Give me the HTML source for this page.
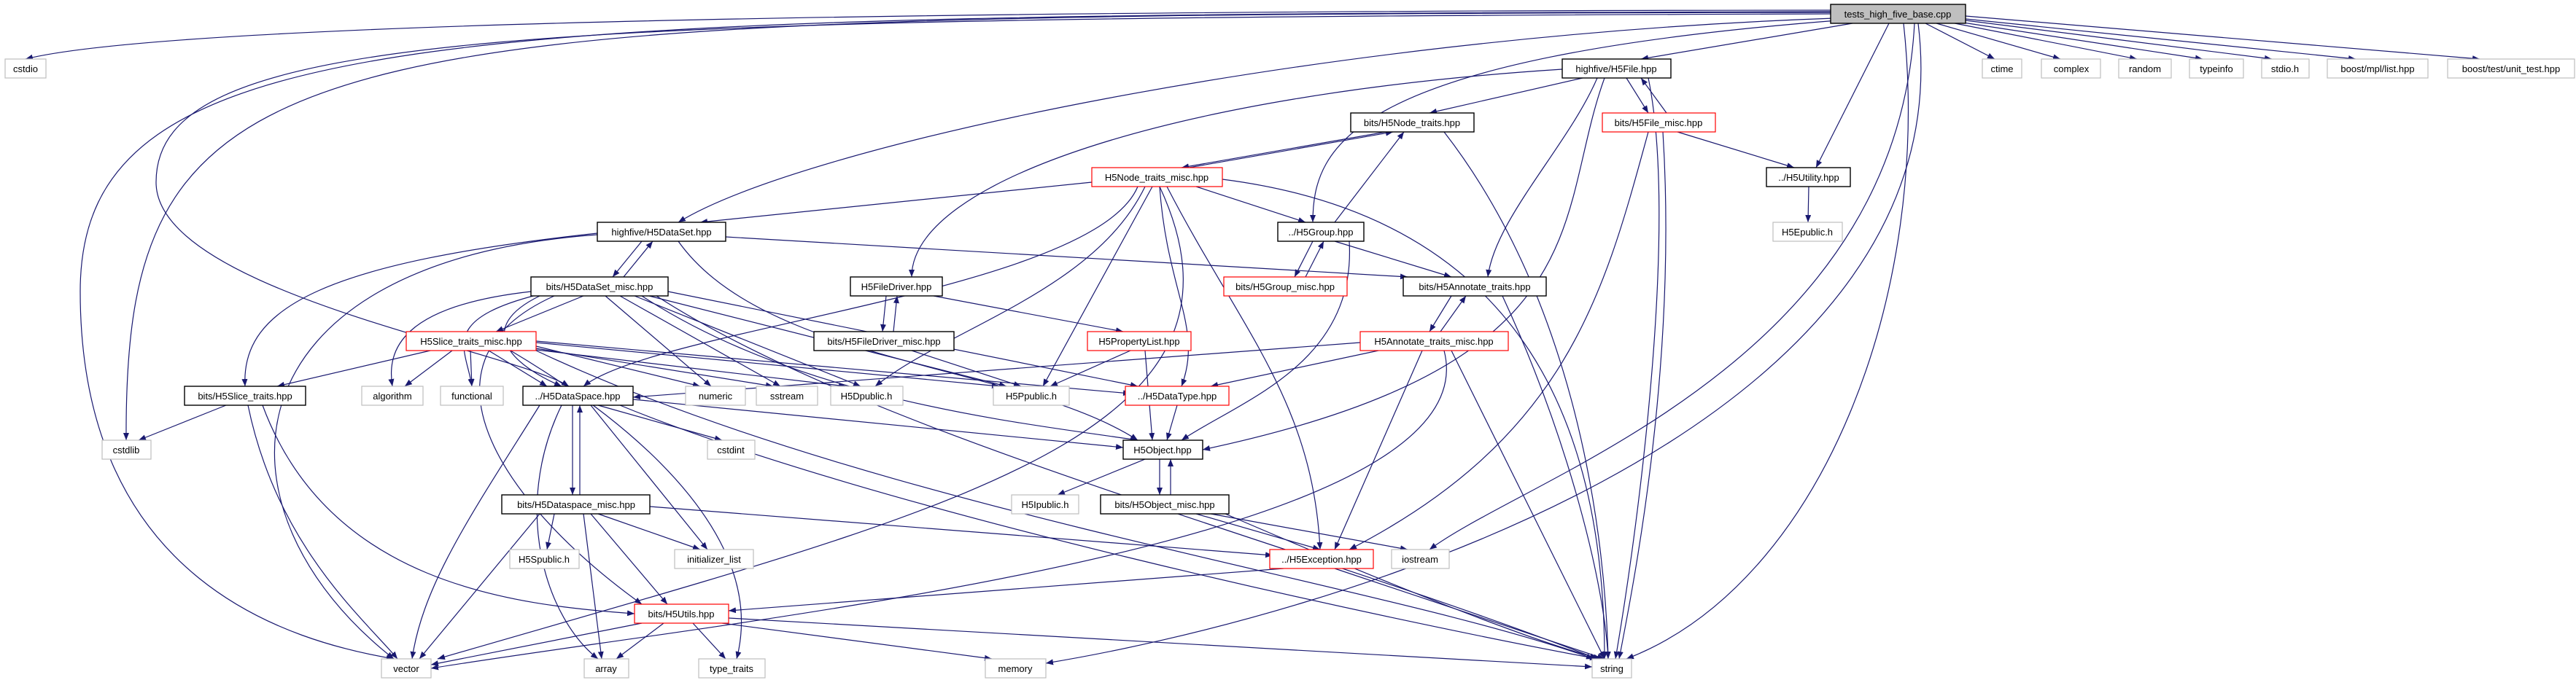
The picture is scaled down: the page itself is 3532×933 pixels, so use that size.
<!DOCTYPE html>
<html><head><meta charset="utf-8"><style>
html,body{margin:0;padding:0;background:#fff}
svg{display:block}
text{font-family:"Liberation Sans",sans-serif;font-size:13px;text-anchor:middle;fill:#000}
.e{fill:none;stroke:#191970;stroke-width:1.2;marker-end:url(#a)}
.b{fill:#fff;stroke:#000;stroke-width:1.4}
.g{fill:#fff;stroke:#bfbfbf;stroke-width:1.2}
.r{fill:#fff;stroke:#ff0000;stroke-width:1.2}
</style></head><body>
<svg width="3532" height="933" viewBox="0 0 3532 933" xmlns="http://www.w3.org/2000/svg">
<defs><marker id="a" markerUnits="userSpaceOnUse" markerWidth="11" markerHeight="9" refX="10" refY="4" orient="auto"><path d="M0,0 L10,4 L0,8 z" fill="#191970"/></marker></defs>
<g>
<!-- tests edges -->
<path class="e" d="M2510 14 Q300 15 35 81"/>
<path class="e" d="M2510 17 C400 20 170 30 173 604"/>
<path class="e" d="M2510 16 C600 20 110 30 110 400 C110 800 400 880 540 904"/>
<path class="e" d="M2510 19 C700 25 214 40 214 250 C214 400 700 480 780 530"/>
<path class="e" d="M2515 25 C1800 50 1100 200 930 305"/>
<path class="e" d="M2520 28 C1850 80 1800 200 1800 305"/>
<path class="e" d="M2540 32 L2250 81"/>
<path class="e" d="M2590 32 L2490 230"/>
<path class="e" d="M2610 32 C2650 400 2500 800 2230 904"/>
<path class="e" d="M2625 32 C2600 500 2100 650 1960 754"/>
<path class="e" d="M2630 32 C2700 600 1800 850 1434 910"/>
<path class="e" d="M2640 32 L2735 81"/>
<path class="e" d="M2655 32 L2825 81"/>
<path class="e" d="M2670 30 L2930 81"/>
<path class="e" d="M2685 30 L3020 81"/>
<path class="e" d="M2695 28 L3115 81"/>
<path class="e" d="M2695 26 L3230 81"/>
<path class="e" d="M2695 22 L3400 81"/>
<!-- H5File -->
<path class="e" d="M2170 107 L1960 155"/>
<path class="e" d="M2230 107 L2260 155"/>
<path class="e" d="M2285 155 L2250 107"/>
<path class="e" d="M2190 107 C2150 200 2050 300 2040 380"/>
<path class="e" d="M2142 95 C1600 130 1250 250 1250 380"/>
<path class="e" d="M2200 107 C2130 300 2200 500 1649 617"/>
<path class="e" d="M2260 107 C2300 300 2250 700 2215 904"/>
<!-- File_misc -->
<path class="e" d="M2300 181 L2460 230"/>
<path class="e" d="M2260 181 C2200 400 2150 600 1850 754"/>
<path class="e" d="M2280 181 C2300 500 2240 800 2220 904"/>
<!-- Node_traits -->
<path class="e" d="M1900 181 L1620 230"/>
<path class="e" d="M1630 230 L1910 181"/>
<path class="e" d="M1980 181 C2150 400 2200 700 2205 904"/>
<!-- Node_traits_misc -->
<path class="e" d="M1497 250 L960 305"/>
<path class="e" d="M1640 256 L1790 305"/>
<path class="e" d="M1830 305 L1925 181"/>
<path class="e" d="M1676 246 C2100 300 2200 600 2200 904"/>
<path class="e" d="M1560 256 C1500 400 900 450 800 530"/>
<path class="e" d="M1570 256 C1500 400 1300 450 1200 530"/>
<path class="e" d="M1580 256 L1430 530"/>
<path class="e" d="M1590 256 C1600 400 1650 450 1620 530"/>
<path class="e" d="M1600 256 C1700 450 1800 550 1810 754"/>
<path class="e" d="M1590 256 C1750 600 1300 700 600 904"/>
<path class="e" d="M2480 256 L2479 305"/>
<!-- H5DataSet -->
<path class="e" d="M880 331 L840 380"/>
<path class="e" d="M855 380 L895 331"/>
<path class="e" d="M995 325 L1930 380"/>
<path class="e" d="M819 320 C450 360 330 420 336 530"/>
<path class="e" d="M819 322 C300 360 280 700 540 904"/>
<path class="e" d="M930 331 C1050 500 1400 500 1560 604"/>
<!-- H5Group -->
<path class="e" d="M1800 331 L1775 380"/>
<path class="e" d="M1790 380 L1815 331"/>
<path class="e" d="M1830 331 L1990 380"/>
<path class="e" d="M1850 331 C1860 500 1700 550 1620 604"/>
<!-- DataSet_misc -->
<path class="e" d="M800 406 L680 455"/>
<path class="e" d="M728 400 C550 420 530 480 538 530"/>
<path class="e" d="M735 405 C600 440 640 480 647 530"/>
<path class="e" d="M740 406 C650 450 700 500 770 530"/>
<path class="e" d="M830 406 L975 530"/>
<path class="e" d="M850 406 L1070 530"/>
<path class="e" d="M870 406 L1180 530"/>
<path class="e" d="M890 406 L1380 530"/>
<path class="e" d="M916 400 L1560 530"/>
<path class="e" d="M760 406 C550 500 700 700 880 829"/>
<path class="e" d="M900 406 C1200 600 1800 750 2190 904"/>
<path class="e" d="M880 406 C1100 550 1400 580 1560 604"/>
<!-- FileDriver -->
<path class="e" d="M1215 406 L1210 455"/>
<path class="e" d="M1225 455 L1230 406"/>
<path class="e" d="M1280 406 L1540 455"/>
<path class="e" d="M1250 481 L1400 530"/>
<!-- Annotate -->
<path class="e" d="M1990 406 L1960 455"/>
<path class="e" d="M1975 455 L2010 406"/>
<path class="e" d="M2060 406 C2150 600 2200 800 2205 904"/>
<path class="e" d="M1865 470 L868 545"/>
<path class="e" d="M1890 481 L1660 530"/>
<path class="e" d="M1950 481 L1830 754"/>
<path class="e" d="M1990 481 L2200 904"/>
<path class="e" d="M1980 481 C2050 750 1000 850 591 917"/>
<!-- PropertyList -->
<path class="e" d="M1550 481 L1440 530"/>
<path class="e" d="M1570 481 L1580 604"/>
<!-- Slice_traits_misc -->
<path class="e" d="M590 481 L380 530"/>
<path class="e" d="M620 481 L555 530"/>
<path class="e" d="M645 481 L647 530"/>
<path class="e" d="M670 481 L750 530"/>
<path class="e" d="M735 475 L960 530"/>
<path class="e" d="M735 478 L1060 530"/>
<path class="e" d="M735 480 L1160 530"/>
<path class="e" d="M735 470 L1370 530"/>
<path class="e" d="M735 468 L1550 540"/>
<path class="e" d="M700 481 C900 600 1050 750 1010 904"/>
<path class="e" d="M735 481 C1200 700 1900 800 2185 904"/>
<!-- Slice_traits -->
<path class="e" d="M310 556 L190 604"/>
<path class="e" d="M340 556 C380 750 500 850 545 904"/>
<path class="e" d="M360 556 C450 800 700 830 870 842"/>
<!-- DataSpace -->
<path class="e" d="M785 556 L785 679"/>
<path class="e" d="M795 679 L795 556"/>
<path class="e" d="M820 556 L990 604"/>
<path class="e" d="M868 548 L1540 614"/>
<path class="e" d="M740 556 C650 700 580 800 565 904"/>
<path class="e" d="M770 556 C700 700 750 850 820 904"/>
<path class="e" d="M810 556 L970 754"/>
<path class="e" d="M850 556 C1200 700 1900 850 2190 904"/>
<path class="e" d="M1614 556 L1600 604"/>
<!-- H5Object -->
<path class="e" d="M1570 630 L1450 679"/>
<path class="e" d="M1590 630 L1590 679"/>
<path class="e" d="M1605 679 L1605 630"/>
<path class="e" d="M1640 705 L1810 754"/>
<path class="e" d="M1660 705 L1930 754"/>
<path class="e" d="M1680 705 C1900 800 2100 880 2195 904"/>
<!-- Dataspace_misc -->
<path class="e" d="M760 705 L750 754"/>
<path class="e" d="M820 705 L960 754"/>
<path class="e" d="M891 695 L1745 762"/>
<path class="e" d="M810 705 L915 829"/>
<path class="e" d="M800 705 L825 904"/>
<path class="e" d="M740 705 L575 904"/>
<!-- Exception -->
<path class="e" d="M1760 780 L999 838"/>
<path class="e" d="M1830 780 L2200 904"/>
<!-- H5Utils -->
<path class="e" d="M880 855 L591 912"/>
<path class="e" d="M910 855 L845 904"/>
<path class="e" d="M950 855 L995 904"/>
<path class="e" d="M990 855 L1360 904"/>
<path class="e" d="M999 848 L2183 915"/>
</g>
<g>
<rect x="2510" y="6" width="185" height="26" fill="#bfbfbf" stroke="#000" stroke-width="1.4"/><text x="2602" y="24">tests_high_five_base.cpp</text>
<rect class="g" x="7" y="81" width="56" height="26"/><text x="35" y="99">cstdio</text>
<rect class="b" x="2142" y="81" width="149" height="26"/><text x="2216" y="99">highfive/H5File.hpp</text>
<rect class="g" x="2718" y="81" width="54" height="26"/><text x="2745" y="99">ctime</text>
<rect class="g" x="2799" y="81" width="81" height="26"/><text x="2840" y="99">complex</text>
<rect class="g" x="2905" y="81" width="72" height="26"/><text x="2941" y="99">random</text>
<rect class="g" x="3002" y="81" width="74" height="26"/><text x="3039" y="99">typeinfo</text>
<rect class="g" x="3101" y="81" width="65" height="26"/><text x="3133" y="99">stdio.h</text>
<rect class="g" x="3191" y="81" width="138" height="26"/><text x="3260" y="99">boost/mpl/list.hpp</text>
<rect class="g" x="3356" y="81" width="174" height="26"/><text x="3443" y="99">boost/test/unit_test.hpp</text>
<rect class="b" x="1852" y="155" width="169" height="26"/><text x="1936" y="173">bits/H5Node_traits.hpp</text>
<rect class="r" x="2197" y="155" width="155" height="26"/><text x="2274" y="173">bits/H5File_misc.hpp</text>
<rect class="r" x="1497" y="230" width="179" height="26"/><text x="1586" y="248">H5Node_traits_misc.hpp</text>
<rect class="b" x="2422" y="230" width="115" height="26"/><text x="2480" y="248">../H5Utility.hpp</text>
<rect class="b" x="819" y="305" width="176" height="26"/><text x="907" y="323">highfive/H5DataSet.hpp</text>
<rect class="b" x="1752" y="305" width="118" height="26"/><text x="1811" y="323">../H5Group.hpp</text>
<rect class="g" x="2431" y="305" width="95" height="26"/><text x="2478" y="323">H5Epublic.h</text>
<rect class="b" x="728" y="380" width="188" height="26"/><text x="822" y="398">bits/H5DataSet_misc.hpp</text>
<rect class="b" x="1166" y="380" width="126" height="26"/><text x="1229" y="398">H5FileDriver.hpp</text>
<rect class="r" x="1678" y="380" width="169" height="26"/><text x="1762" y="398">bits/H5Group_misc.hpp</text>
<rect class="b" x="1924" y="380" width="196" height="26"/><text x="2022" y="398">bits/H5Annotate_traits.hpp</text>
<rect class="r" x="557" y="455" width="178" height="26"/><text x="646" y="473">H5Slice_traits_misc.hpp</text>
<rect class="b" x="1116" y="455" width="192" height="26"/><text x="1212" y="473">bits/H5FileDriver_misc.hpp</text>
<rect class="r" x="1491" y="455" width="142" height="26"/><text x="1562" y="473">H5PropertyList.hpp</text>
<rect class="r" x="1865" y="455" width="203" height="26"/><text x="1966" y="473">H5Annotate_traits_misc.hpp</text>
<rect class="b" x="253" y="530" width="166" height="26"/><text x="336" y="548">bits/H5Slice_traits.hpp</text>
<rect class="g" x="496" y="530" width="84" height="26"/><text x="538" y="548">algorithm</text>
<rect class="g" x="604" y="530" width="86" height="26"/><text x="647" y="548">functional</text>
<rect class="b" x="717" y="530" width="151" height="26"/><text x="792" y="548">../H5DataSpace.hpp</text>
<rect class="g" x="940" y="530" width="82" height="26"/><text x="981" y="548">numeric</text>
<rect class="g" x="1037" y="530" width="84" height="26"/><text x="1079" y="548">sstream</text>
<rect class="g" x="1139" y="530" width="99" height="26"/><text x="1188" y="548">H5Dpublic.h</text>
<rect class="g" x="1362" y="530" width="104" height="26"/><text x="1414" y="548">H5Ppublic.h</text>
<rect class="r" x="1543" y="530" width="142" height="26"/><text x="1614" y="548">../H5DataType.hpp</text>
<rect class="g" x="140" y="604" width="67" height="26"/><text x="173" y="622">cstdlib</text>
<rect class="g" x="970" y="604" width="65" height="26"/><text x="1002" y="622">cstdint</text>
<rect class="b" x="1540" y="604" width="109" height="26"/><text x="1594" y="622">H5Object.hpp</text>
<rect class="b" x="688" y="679" width="203" height="26"/><text x="790" y="697">bits/H5Dataspace_misc.hpp</text>
<rect class="g" x="1387" y="679" width="92" height="26"/><text x="1433" y="697">H5Ipublic.h</text>
<rect class="b" x="1509" y="679" width="176" height="26"/><text x="1597" y="697">bits/H5Object_misc.hpp</text>
<rect class="g" x="699" y="754" width="95" height="26"/><text x="746" y="772">H5Spublic.h</text>
<rect class="g" x="925" y="754" width="108" height="26"/><text x="979" y="772">initializer_list</text>
<rect class="r" x="1741" y="754" width="142" height="26"/><text x="1812" y="772">../H5Exception.hpp</text>
<rect class="g" x="1908" y="754" width="79" height="26"/><text x="1947" y="772">iostream</text>
<rect class="r" x="870" y="829" width="129" height="26"/><text x="934" y="847">bits/H5Utils.hpp</text>
<rect class="g" x="523" y="904" width="68" height="26"/><text x="557" y="922">vector</text>
<rect class="g" x="801" y="904" width="61" height="26"/><text x="831" y="922">array</text>
<rect class="g" x="958" y="904" width="91" height="26"/><text x="1003" y="922">type_traits</text>
<rect class="g" x="1351" y="904" width="83" height="26"/><text x="1392" y="922">memory</text>
<rect class="g" x="2183" y="904" width="54" height="26"/><text x="2210" y="922">string</text>
</g>
</svg>
</body></html>
